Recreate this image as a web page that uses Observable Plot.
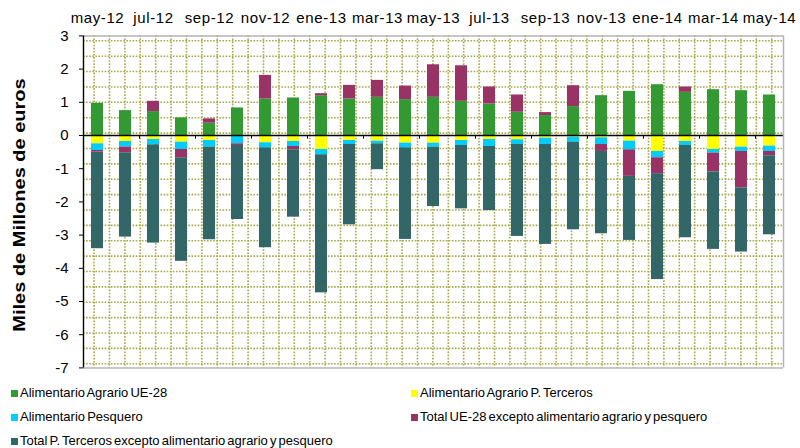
<!DOCTYPE html>
<html>
<head>
<meta charset="utf-8">
<script src="https://cdn.jsdelivr.net/npm/d3@7"></script>
<script src="https://cdn.jsdelivr.net/npm/@observablehq/plot@0.6"></script>
<style>
  html, body { margin: 0; padding: 0; background: white; }
  #wrap { width: 800px; height: 448px; position: relative; overflow: hidden; }
  #legend { position: relative; width: 800px; height: 73px;
    font-family: Arial, "Liberation Sans", Helvetica, sans-serif;
    font-size: 13px; word-spacing: -1.5px; color: #000; }
  .item { position: absolute; display: flex; align-items: center; white-space: nowrap; line-height: 16px; }
  .sw { width: 7px; height: 7px; margin-right: 2px; }
</style>
</head>
<body>
<div id="wrap"><div id="chart"></div><div id="legend"></div></div>
<script>
const months = ["may-12","jun-12","jul-12","ago-12","sep-12","oct-12","nov-12","dic-12","ene-13","feb-13","mar-13","abr-13","may-13","jun-13","jul-13","ago-13","sep-13","oct-13","nov-13","dic-13","ene-14","feb-14","mar-14","abr-14","may-14"];
const tickLabels = ["may-12","jul-12","sep-12","nov-12","ene-13","mar-13","may-13","jul-13","sep-13","nov-13","ene-14","mar-14","may-14"];
const seriesNames = ["Alimentario Agrario UE-28","Alimentario Agrario P. Terceros","Alimentario Pesquero","Total UE-28 excepto alimentario agrario y pesquero","Total P. Terceros excepto alimentario agrario y pesquero"];
const seriesColors = ["#339933","#ffff00","#00ccff","#993366","#336666"];
const agrarioUE = [0.97,0.75,0.72,0.53,0.37,0.83,1.10,1.13,1.20,1.10,1.15,1.08,1.15,1.03,0.95,0.70,0.60,0.87,1.20,1.33,1.53,1.30,1.38,1.35,1.22];
const agrarioPT = [-0.25,-0.18,-0.12,-0.20,-0.15,-0.02,-0.22,-0.18,-0.42,-0.15,-0.17,-0.23,-0.23,-0.15,-0.12,-0.13,-0.08,-0.05,-0.07,-0.17,-0.48,-0.18,-0.42,-0.35,-0.32];
const pesquero = [-0.20,-0.17,-0.16,-0.22,-0.20,-0.23,-0.15,-0.15,-0.16,-0.12,-0.08,-0.14,-0.12,-0.15,-0.21,-0.14,-0.19,-0.15,-0.20,-0.26,-0.19,-0.12,-0.11,-0.13,-0.16];
const totalUE = [-0.05,-0.17,0.31,-0.25,0.13,-0.05,0.71,-0.10,0.06,0.41,0.51,0.41,0.98,1.07,0.51,0.52,0.09,0.63,-0.21,-0.80,-0.48,0.16,-0.57,-1.10,-0.13];
const totalPT = [-2.91,-2.54,-2.96,-3.12,-2.79,-2.23,-3.01,-2.03,-4.16,-2.42,-0.78,-2.76,-1.79,-1.91,-1.93,-2.77,-3.01,-2.64,-2.48,-1.93,-3.19,-2.78,-2.33,-1.93,-2.38];
const yTicks = [-7,-6,-5,-4,-3,-2,-1,0,1,2,3];

const seriesValues = [agrarioUE, agrarioPT, pesquero, totalUE, totalPT];

// stack (positives upward, negatives downward, in series order)
const stacked = [];
months.forEach((m, i) => {
  let pos = 0, neg = 0;
  seriesValues.forEach((vals, s) => {
    const v = vals[i];
    if (v >= 0) { stacked.push({i, series: seriesNames[s], y1: pos, y2: pos + v}); pos += v; }
    else { stacked.push({i, series: seriesNames[s], y1: neg, y2: neg + v}); neg += v; }
  });
});

const tickIdx = tickLabels.map(l => months.indexOf(l));
const catTicks = d3.range(1.5, months.length - 1, 2);

// decorative dotted pattern of the plot area (Excel pattern fill), in px of the original
const x0px = 83, pxPerCat = 28, y0px = 135, pxPerUnit = 33.2;
const vGrid = d3.range(45).map(k => (93.6 + 15.4 * k - x0px) / pxPerCat - 0.5);
const hGrid = d3.range(22).map(k => (y0px - (40.3 + 15.38 * k)) / pxPerUnit);

const gridStyle = {stroke: "#a8a84a", strokeWidth: 1.6, strokeDasharray: "1.6,1.5"};

const chart = Plot.plot({
  width: 800, height: 375,
  marginTop: 35.4, marginBottom: 7.6, marginLeft: 83, marginRight: 17,
  style: {fontFamily: "Arial, 'Liberation Sans', Helvetica, sans-serif", fontSize: "15px", color: "black", background: "white"},
  x: {domain: [-0.5, months.length - 0.5], axis: "top", ticks: tickIdx, tickFormat: i => months[i], tickSize: 0, tickPadding: 13, label: null},
  y: {domain: [-7, 3], ticks: yTicks, tickSize: 4, tickPadding: 11, tickFormat: d => String(d), label: null},
  color: {domain: seriesNames, range: seriesColors},
  marks: [
    Plot.ruleY(hGrid, gridStyle),
    Plot.ruleX(vGrid, gridStyle),
    Plot.rect(stacked, {x1: d => d.i - 0.215, x2: d => d.i + 0.215, y1: "y1", y2: "y2", fill: "series"}),
    Plot.ruleY([0], {stroke: "black", strokeWidth: 1.4}),
    Plot.ruleX(catTicks, {y1: 0, y2: -0.11, stroke: "black", strokeWidth: 1}),
    Plot.ruleY([3, -7], {stroke: "#b4b4b4", strokeWidth: 1.5}),
    Plot.ruleX([months.length - 0.5], {stroke: "#b4b4b4", strokeWidth: 1.5}),
    Plot.ruleX([-0.5], {stroke: "black", strokeWidth: 1.4})
  ]
});
document.getElementById("chart").appendChild(chart);

// wider axis text to mimic the reference
d3.select(chart).selectAll("g[aria-label='x-axis tick label'] text, g[aria-label='x-axis'] text")
  .style("letter-spacing", "0.6px");

// y axis title
d3.select(chart).append("text")
  .attr("transform", "translate(25,205) rotate(-90) scale(1,0.8)")
  .attr("text-anchor", "middle")
  .attr("font-weight", "bold")
  .attr("font-size", 20)
  .attr("fill", "black")
  .text("Miles de Millones de euros");

// legend
const legend = d3.select("#legend");
seriesNames.forEach((name, k) => {
  const col = k % 2, row = Math.floor(k / 2);
  const it = legend.append("div").attr("class", "item")
    .style("left", (col ? 411 : 11) + "px")
    .style("top", (10 + row * 24) + "px");
  it.append("div").attr("class", "sw").style("background", seriesColors[k]);
  it.append("span").text(name);
});
</script>
</body>
</html>
